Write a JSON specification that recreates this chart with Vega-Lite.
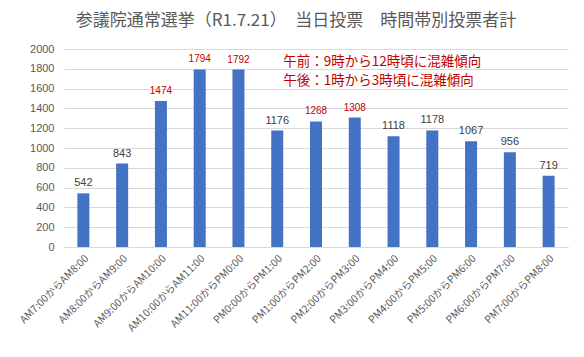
{
  "$schema": "https://vega.github.io/schema/vega-lite/v6.json",
  "autosize": "none",
  "width": 504,
  "height": 198,
  "padding": {"left": 64, "top": 49, "right": 16, "bottom": 110},
  "background": "white",
  "title": {
    "text": "参議院通常選挙（R1.7.21）　当日投票　時間帯別投票者計",
    "font": "Noto Sans CJK JP",
    "fontSize": 17,
    "fontWeight": "normal",
    "color": "#595959",
    "anchor": "middle",
    "dx": -20,
    "offset": 13
  },
  "config": {
    "view": {"stroke": null},
    "font": "Noto Sans CJK JP",
    "axisY": {
      "title": null, "format": "d", "labelOverlap": false, "tickCount": 12,
      "ticks": false, "domain": false, "gridColor": "#d9d9d9", "gridWidth": 1,
      "labelFontSize": 11, "labelColor": "#595959", "labelPadding": 10,
      "labelFont": "Liberation Sans"
    },
    "axisX": {
      "title": null, "labelAngle": -45, "labelAlign": "right", "labelBaseline": "top",
      "labelFontSize": 10.5, "labelColor": "#595959", "labelLimit": 200,
      "ticks": false, "domainColor": "#d9d9d9", "labelPadding": 6,
      "labelFont": "Noto Sans CJK JP"
    }
  },
  "datasets": {
    "votes": [
      {"slot": "AM7:00からAM8:00", "count": 542, "hl": false},
      {"slot": "AM8:00からAM9:00", "count": 843, "hl": false},
      {"slot": "AM9:00からAM10:00", "count": 1474, "hl": true},
      {"slot": "AM10:00からAM11:00", "count": 1794, "hl": true},
      {"slot": "AM11:00からPM0:00", "count": 1792, "hl": true},
      {"slot": "PM0:00からPM1:00", "count": 1176, "hl": false},
      {"slot": "PM1:00からPM2:00", "count": 1268, "hl": true},
      {"slot": "PM2:00からPM3:00", "count": 1308, "hl": true},
      {"slot": "PM3:00からPM4:00", "count": 1118, "hl": false},
      {"slot": "PM4:00からPM5:00", "count": 1178, "hl": false},
      {"slot": "PM5:00からPM6:00", "count": 1067, "hl": false},
      {"slot": "PM6:00からPM7:00", "count": 956, "hl": false},
      {"slot": "PM7:00からPM8:00", "count": 719, "hl": false}
    ],
    "notes": [
      {"slot": "PM0:00からPM1:00", "y": 1869, "text": "午前：9時から12時頃に混雑傾向"},
      {"slot": "PM0:00からPM1:00", "y": 1680, "text": "午後：1時から3時頃に混雑傾向"}
    ]
  },
  "layer": [
    {
      "data": {"name": "votes"},
      "mark": {"type": "bar", "color": "#4472C4", "width": 12},
      "encoding": {
        "x": {
          "field": "slot", "type": "nominal", "sort": null,
          "scale": {"paddingInner": 0, "paddingOuter": 0},
          "axis": {"title": null}
        },
        "y": {
          "field": "count", "type": "quantitative",
          "scale": {"domain": [0, 2000]},
          "axis": {"title": null, "tickCount": 12, "values": [0, 200, 400, 600, 800, 1000, 1200, 1400, 1600, 1800, 2000]}
        }
      }
    },
    {
      "data": {"name": "votes"},
      "mark": {"type": "text", "baseline": "bottom", "dy": -5, "font": "Liberation Sans"},
      "encoding": {
        "x": {"field": "slot", "type": "nominal", "sort": null, "axis": {"title": null}},
        "y": {"field": "count", "type": "quantitative", "axis": {"title": null, "tickCount": 12, "values": [0, 200, 400, 600, 800, 1000, 1200, 1400, 1600, 1800, 2000]}},
        "text": {"field": "count", "type": "quantitative"},
        "color": {"condition": {"test": "datum.hl", "value": "#C00000"}, "value": "#404040"},
        "fontWeight": {"condition": {"test": "datum.hl", "value": "bold"}, "value": "normal"},
        "size": {"condition": {"test": "datum.hl", "value": 10}, "value": 11}
      }
    },
    {
      "data": {"name": "notes"},
      "mark": {"type": "text", "align": "left", "baseline": "middle", "dx": 6, "fontSize": 13.5, "color": "#C00000", "font": "Noto Sans CJK JP"},
      "encoding": {
        "x": {"field": "slot", "type": "nominal", "sort": null, "axis": {"title": null}},
        "y": {"field": "y", "type": "quantitative", "axis": {"title": null, "tickCount": 12, "values": [0, 200, 400, 600, 800, 1000, 1200, 1400, 1600, 1800, 2000]}},
        "text": {"field": "text"}
      }
    }
  ]
}
